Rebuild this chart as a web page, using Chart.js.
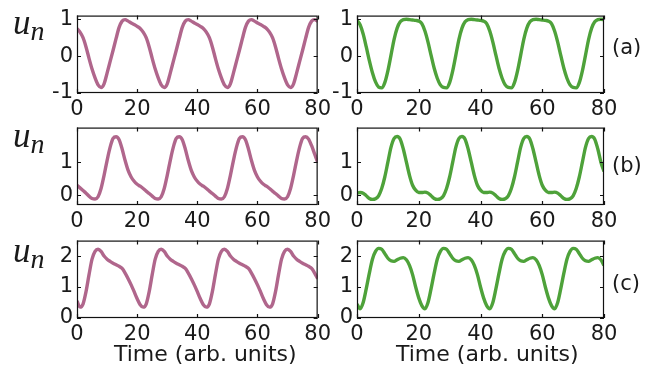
<!DOCTYPE html>
<html>
<head>
<meta charset="utf-8">
<script src="https://cdn.jsdelivr.net/npm/chart.js@4.4.1/dist/chart.umd.min.js"></script>
<style>
  body { margin: 0; background: #fff; width: 658px; height: 377px; overflow: hidden; position: relative; }
  .wrap { position: absolute; }
  .lbl { position: absolute; font-family: "DejaVu Sans", sans-serif; font-size: 21px; line-height: 24px; color: #1a1a1a; white-space: nowrap; }
  .un { position: absolute; font-family: "Liberation Serif", serif; font-style: italic; font-size: 35px; line-height: 34px; color: #1a1a1a; }
  .un sub { font-size: 28px; vertical-align: -6px; line-height: 0; }
</style>
</head>
<body>
<div class="wrap" style="left:0;top:-1px"><canvas id="c1" width="335" height="124"></canvas></div>
<div class="wrap" style="left:320px;top:-1px"><canvas id="c2" width="338" height="124"></canvas></div>
<div class="wrap" style="left:0;top:111px"><canvas id="c3" width="335" height="124"></canvas></div>
<div class="wrap" style="left:320px;top:111px"><canvas id="c4" width="338" height="124"></canvas></div>
<div class="wrap" style="left:0;top:224px"><canvas id="c5" width="335" height="124"></canvas></div>
<div class="wrap" style="left:320px;top:224px"><canvas id="c6" width="338" height="124"></canvas></div>

<div class="un" style="left:13px;top:6px">u<sub>n</sub></div>
<div class="un" style="left:13px;top:119px">u<sub>n</sub></div>
<div class="un" style="left:13px;top:234px">u<sub>n</sub></div>
<div class="lbl" style="left:612px;top:35px">(a)</div>
<div class="lbl" style="left:612px;top:153px">(b)</div>
<div class="lbl" style="left:612px;top:271px">(c)</div>
<div class="lbl" style="left:114px;top:342px;font-size:22px">Time (arb. units)</div>
<div class="lbl" style="left:396px;top:342px;font-size:22px">Time (arb. units)</div>

<script>
// time axis
const times = [0, 1, 2, 3, 4, 5, 6, 7, 8, 9, 10, 11, 12, 13, 14, 15, 16, 17, 18, 19, 20,
  21, 22, 23, 24, 25, 26, 27, 28, 29, 30, 31, 32, 33, 34, 35, 36, 37, 38, 39, 40,
  41, 42, 43, 44, 45, 46, 47, 48, 49, 50, 51, 52, 53, 54, 55, 56, 57, 58, 59, 60,
  61, 62, 63, 64, 65, 66, 67, 68, 69, 70, 71, 72, 73, 74, 75, 76, 77, 78, 79, 80];
const xTicks = [0, 20, 40, 60, 80];

// (a) row
const pinkA = [0.75, 0.65, 0.5, 0.25, -0.06, -0.35, -0.59, -0.78,
  -0.85, -0.75, -0.46, -0.15, 0.16, 0.48, 0.78, 0.95, 0.99, 0.95, 0.9, 0.86, 0.81, 0.75, 0.65, 0.5, 0.25, -0.06, -0.35, -0.59, -0.78,
  -0.85, -0.75, -0.46, -0.15, 0.16, 0.48, 0.78, 0.95, 0.99, 0.95, 0.9, 0.86, 0.81, 0.75, 0.65, 0.5, 0.25, -0.06, -0.35, -0.59, -0.78,
  -0.85, -0.75, -0.46, -0.15, 0.16, 0.48, 0.78, 0.95, 0.99, 0.95, 0.9, 0.86, 0.81, 0.75, 0.65, 0.5, 0.25, -0.06, -0.35, -0.59, -0.78,
  -0.85, -0.75, -0.46, -0.15, 0.16, 0.48, 0.78, 0.95, 0.99, 0.95];
const greenA = [0.97, 0.85, 0.6, 0.25, -0.12, -0.45, -0.7, -0.84,
  -0.86, -0.72, -0.4, 0.02, 0.45, 0.76, 0.93, 0.99, 1.0, 0.99, 0.98, 0.97, 0.95, 0.88, 0.68, 0.38, 0.02, -0.33, -0.6, -0.78, -0.85,
  -0.86, -0.72, -0.4, 0.02, 0.45, 0.76, 0.93, 0.99, 1.0, 0.99, 0.98, 0.97, 0.95, 0.88, 0.68, 0.38, 0.02, -0.33, -0.6, -0.78, -0.85,
  -0.86, -0.72, -0.4, 0.02, 0.45, 0.76, 0.93, 0.99, 1.0, 0.99, 0.98, 0.97, 0.95, 0.88, 0.68, 0.38, 0.02, -0.33, -0.6, -0.78, -0.85,
  -0.86, -0.72, -0.4, 0.02, 0.45, 0.76, 0.93, 0.99, 1.0, 0.99];
const yTicksA = [-1, 0, 1];

// (b) row
const pinkB = [0.3, 0.22, 0.14, 0.06, -0.03, -0.1,
  -0.12, -0.05, 0.2, 0.6, 1.05, 1.45, 1.72, 1.77, 1.68, 1.4, 1.05, 0.75, 0.55, 0.42, 0.33, 0.27, 0.2, 0.12, 0.05, -0.03, -0.1,
  -0.12, -0.05, 0.2, 0.6, 1.05, 1.45, 1.72, 1.77, 1.68, 1.4, 1.05, 0.75, 0.55, 0.42, 0.33, 0.27, 0.2, 0.12, 0.05, -0.03, -0.1,
  -0.12, -0.05, 0.2, 0.6, 1.05, 1.45, 1.72, 1.77, 1.68, 1.4, 1.05, 0.75, 0.55, 0.42, 0.33, 0.27, 0.2, 0.12, 0.05, -0.03, -0.1,
  -0.12, -0.05, 0.2, 0.6, 1.05, 1.45, 1.72, 1.77, 1.7, 1.5, 1.25, 1.0];
const greenB = [0.06, 0.08, 0.06, -0.02, -0.1,
  -0.13, -0.11, -0.02, 0.2, 0.55, 1.0, 1.45, 1.72, 1.78, 1.7, 1.4, 1.0, 0.6, 0.3, 0.15, 0.08, 0.08, 0.09, 0.06, -0.02, -0.1,
  -0.13, -0.11, -0.02, 0.2, 0.55, 1.0, 1.45, 1.72, 1.78, 1.7, 1.4, 1.0, 0.6, 0.3, 0.15, 0.08, 0.08, 0.09, 0.06, -0.02, -0.1,
  -0.13, -0.11, -0.02, 0.2, 0.55, 1.0, 1.45, 1.72, 1.78, 1.7, 1.4, 1.0, 0.6, 0.3, 0.15, 0.08, 0.08, 0.09, 0.06, -0.02, -0.1,
  -0.13, -0.11, -0.02, 0.2, 0.55, 1.0, 1.45, 1.72, 1.78, 1.7, 1.4, 1.0, 0.72];
const yTicksB = [0, 1];

// (c) row
const pinkC = [0.55,
  0.35, 0.45, 0.85, 1.4, 1.9, 2.15, 2.22, 2.15, 2.0, 1.9, 1.83, 1.77, 1.72, 1.67, 1.6, 1.45, 1.27, 1.07, 0.85, 0.62, 0.43,
  0.35, 0.45, 0.85, 1.4, 1.9, 2.15, 2.22, 2.15, 2.0, 1.9, 1.83, 1.77, 1.72, 1.67, 1.6, 1.45, 1.27, 1.07, 0.85, 0.62, 0.43,
  0.35, 0.45, 0.85, 1.4, 1.9, 2.15, 2.22, 2.15, 2.0, 1.9, 1.83, 1.77, 1.72, 1.67, 1.6, 1.45, 1.27, 1.07, 0.85, 0.62, 0.43,
  0.35, 0.45, 0.85, 1.4, 1.9, 2.15, 2.22, 2.15, 2.0, 1.9, 1.83, 1.77, 1.72, 1.67, 1.6, 1.45, 1.27];
const greenC = [0.45,
  0.3, 0.5, 0.95, 1.45, 1.9, 2.15, 2.25, 2.22, 2.08, 1.93, 1.85, 1.83, 1.88, 1.93, 1.95, 1.88, 1.7, 1.4, 1.0, 0.65, 0.4,
  0.3, 0.5, 0.95, 1.45, 1.9, 2.15, 2.25, 2.22, 2.08, 1.93, 1.85, 1.83, 1.88, 1.93, 1.95, 1.88, 1.7, 1.4, 1.0, 0.65, 0.4,
  0.3, 0.5, 0.95, 1.45, 1.9, 2.15, 2.25, 2.22, 2.08, 1.93, 1.85, 1.83, 1.88, 1.93, 1.95, 1.88, 1.7, 1.4, 1.0, 0.65, 0.4,
  0.3, 0.5, 0.95, 1.45, 1.9, 2.15, 2.25, 2.22, 2.08, 1.93, 1.85, 1.83, 1.88, 1.93, 1.95, 1.88, 1.7];
const yTicksC = [0, 1, 2];

const pink = "rgb(176, 102, 140)";
const green = "rgb(78, 162, 58)";
const tickFont = { family: "DejaVu Sans", size: 21 };

// matlab style box with inward ticks
const boxPlugin = {
  id: "box",
  afterDatasetsDraw(chart) {
    const { ctx, chartArea: a, scales } = chart;
    ctx.save();
    ctx.strokeStyle = "#111";
    ctx.lineWidth = 1.2;
    ctx.strokeRect(a.left + 0.5, a.top + 0.5, a.right - a.left - 1, a.bottom - a.top - 1);
    ctx.beginPath();
    scales.x.ticks.forEach((t) => {
      const x = Math.round(scales.x.getPixelForValue(t.value)) + 0.5;
      ctx.moveTo(x, a.bottom); ctx.lineTo(x, a.bottom - 4);
      ctx.moveTo(x, a.top); ctx.lineTo(x, a.top + 4);
    });
    scales.y.ticks.forEach((t) => {
      const y = Math.round(scales.y.getPixelForValue(t.value)) + 0.5;
      ctx.moveTo(a.left, y); ctx.lineTo(a.left + 4, y);
      ctx.moveTo(a.right, y); ctx.lineTo(a.right - 4, y);
    });
    ctx.stroke();
    ctx.restore();
  },
};

function makeChart(id, values, color, yMin, yMax, yTicks, yWidth, padRight) {
  const points = times.map((t, i) => ({ x: t, y: values[i] }));
  return new Chart(document.getElementById(id), {
    type: "line",
    data: {
      datasets: [{
        data: points,
        borderColor: color,
        borderWidth: 3.4,
        pointRadius: 0,
        cubicInterpolationMode: "monotone",
        fill: false,
      }],
    },
    options: {
      responsive: false,
      animation: false,
      events: [],
      layout: { autoPadding: false, padding: { top: 14, right: padRight, bottom: 0, left: 0 } },
      plugins: { legend: { display: false }, tooltip: { enabled: false } },
      scales: {
        x: {
          type: "linear",
          min: 0,
          max: 80,
          grid: { display: false, drawTicks: false },
          border: { display: false },
          afterBuildTicks: (s) => { s.ticks = xTicks.map((v) => ({ value: v })); },
          afterFit: (s) => { s.height = 30; },
          ticks: { font: tickFont, color: "#1a1a1a", padding: 4, maxRotation: 0 },
        },
        y: {
          min: yMin,
          max: yMax,
          grid: { display: false, drawTicks: false },
          border: { display: false },
          afterBuildTicks: (s) => { s.ticks = yTicks.map((v) => ({ value: v })); },
          afterFit: (s) => { s.width = yWidth; },
          ticks: { font: tickFont, color: "#1a1a1a", padding: 4 },
        },
      },
    },
    plugins: [boxPlugin],
  });
}

makeChart("c1", pinkA, pink, -1, 1.1, yTicksA, 77, 12);
makeChart("c2", greenA, green, -1, 1.1, yTicksA, 37, 54);
makeChart("c3", pinkB, pink, -0.3, 2.05, yTicksB, 77, 12);
makeChart("c4", greenB, green, -0.3, 2.05, yTicksB, 37, 54);
makeChart("c5", pinkC, pink, 0, 2.5, yTicksC, 77, 12);
makeChart("c6", greenC, green, 0, 2.5, yTicksC, 37, 54);
</script>
</body>
</html>
